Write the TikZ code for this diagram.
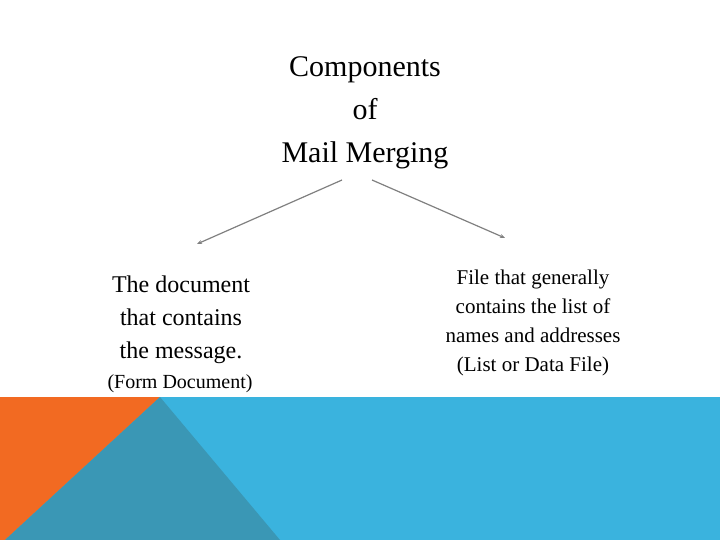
\documentclass[tikz,border=0pt]{standalone}
\usepackage{fontspec}
\usetikzlibrary{arrows.meta}
\setmainfont{Liberation Serif}
\definecolor{band}{HTML}{3AB3DE}
\definecolor{orng}{HTML}{F26A22}
\definecolor{teal}{HTML}{3A97B5}
\definecolor{arr}{HTML}{808080}
\begin{document}
\begin{tikzpicture}[x=1pt,y=-1pt,
  txt/.style={align=center,inner sep=0pt,font=\fontsize{24}{33}\selectfont},
  rtxt/.style={align=center,inner sep=0pt,font=\fontsize{21}{29}\selectfont},
  conn/.style={draw=arr,line width=1.2pt,-{Stealth[length=5pt,width=4pt]}}]
\useasboundingbox (0,0) rectangle (720,540);
\fill[white] (0,0) rectangle (720,540);
\fill[band] (0,397) rectangle (720,540);
\fill[orng] (0,397) -- (160,397) -- (5,540) -- (0,540) -- cycle;
\fill[teal] (160,397) -- (280,540) -- (5,540) -- cycle;
\node[align=center,inner sep=0pt,font=\fontsize{30}{43}\selectfont] (t) at (365,113) {Components\\of\\Mail Merging};
\node[txt] (l) at (181,320) {The document\\that contains\\the message.};
\node[inner sep=0pt,font=\fontsize{20}{24}\selectfont] (lf) at (180,384) {(Form Document)};
\node[rtxt] (r) at (533,323) {File that generally\\contains the list of\\names and addresses\\(List or Data File)};
\coordinate (a1) at (342,180); \coordinate (a2) at (372,180);
\coordinate (e1) at (197,244); \coordinate (e2) at (505,238);
\draw[conn] (a1) -- (e1);
\draw[conn] (a2) -- (e2);
\end{tikzpicture}
\end{document}
